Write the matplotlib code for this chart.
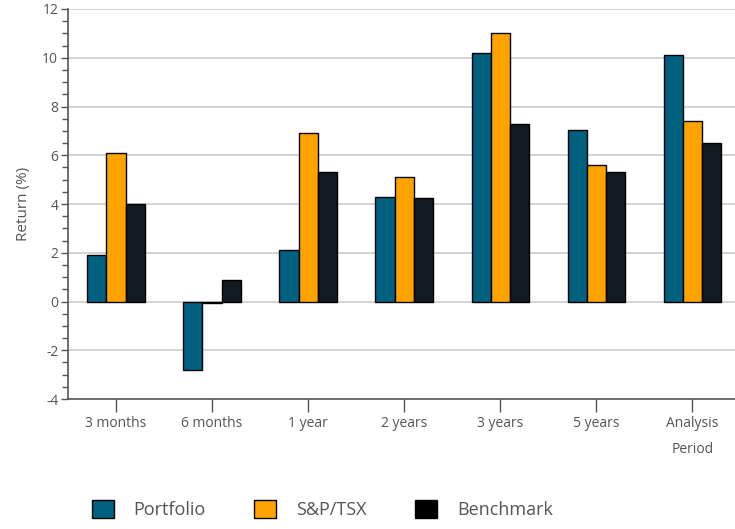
import numpy as np
import matplotlib.pyplot as plt
from matplotlib.patches import Patch

plt.rcParams['font.family'] = ['Open Sans', 'DejaVu Sans']
plt.rcParams['axes.unicode_minus'] = False

# Return data (%) per period
periods = ['3 months', '6 months', '1 year', '2 years', '3 years', '5 years', 'Analysis\nPeriod']
portfolio = [1.9, -2.8, 2.1, 4.3, 10.2, 7.05, 10.1]
sp_tsx = [6.1, -0.06, 6.9, 5.1, 11.0, 5.6, 7.4]
benchmark = [4.0, 0.9, 5.3, 4.25, 7.3, 5.3, 6.5]

series_names = ['Portfolio', 'S&P/TSX', 'Benchmark']
colors = ['#00607f', '#ffa300', '#131b22']
text_color = '#555555'

fig = plt.figure(figsize=(7.35, 5.29), dpi=100)
ax = fig.add_axes([0.0925, 0.2457, 0.915, 0.7373])

x = np.arange(len(periods))
w = 0.2
for i, (vals, c) in enumerate(zip([portfolio, sp_tsx, benchmark], colors)):
    ax.bar(x + (i - 1) * w, vals, width=w, color=c, edgecolor='black',
           linewidth=1, zorder=3)

ax.set_xlim(-0.5, 6.5)
ax.set_ylim(-4, 12)
ax.set_yticks(np.arange(-4, 13, 2))
ax.set_yticks(np.arange(-4, 12.5, 0.5), minor=True)
ax.yaxis.grid(True, color='#cccccc', linewidth=1.2, zorder=0)
ax.set_axisbelow(True)

ax.set_xticks(x)
ax.set_xticklabels(periods, linespacing=2.0)
ax.tick_params(axis='x', length=9, width=1, color=text_color, labelcolor=text_color,
               labelsize=10, pad=3)
ax.tick_params(axis='y', which='major', length=5, width=1, color=text_color,
               labelcolor=text_color, labelsize=10, pad=2)
ax.tick_params(axis='y', which='minor', length=4, width=1, color=text_color)

for s in ['top', 'right']:
    ax.spines[s].set_visible(False)
for s in ['left', 'bottom']:
    ax.spines[s].set_color(text_color)
    ax.spines[s].set_linewidth(1.2)

ax.set_ylabel('Return (%)', color=text_color, fontsize=11, labelpad=8)

handles = [Patch(facecolor=colors[0], edgecolor='black'),
           Patch(facecolor=colors[1], edgecolor='black'),
           Patch(facecolor='black', edgecolor='black')]
fig.legend(handles, series_names, loc='lower left', bbox_to_anchor=(0.103, -0.012),
           ncol=3, frameon=False, fontsize=13, labelcolor=text_color,
           handlelength=1.2, handleheight=1.2, handletextpad=1.1, columnspacing=2.7)

plt.savefig('out.png', dpi=100)
